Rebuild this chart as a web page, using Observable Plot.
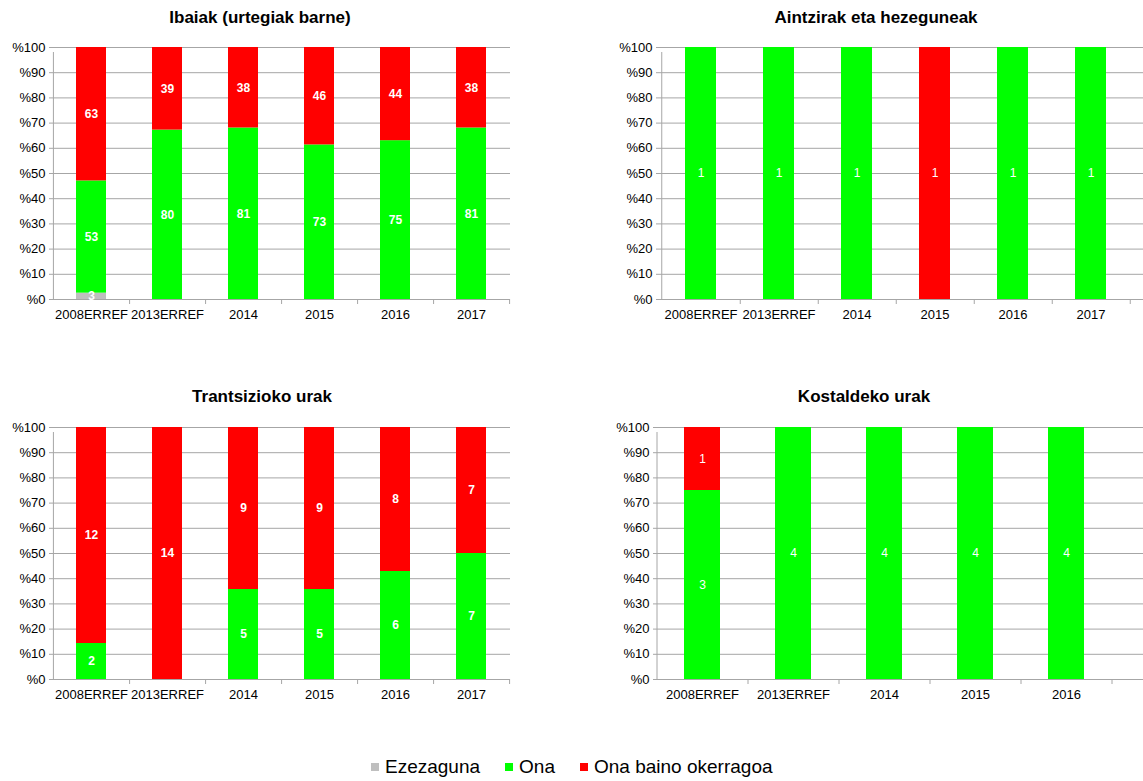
<!DOCTYPE html>
<html>
<head>
<meta charset="utf-8">
<script src="https://cdn.jsdelivr.net/npm/d3@7"></script>
<script src="https://cdn.jsdelivr.net/npm/@observablehq/plot@0.6"></script>
<style>
  body { margin: 0; background: #fff; font-family: "Liberation Sans", Arial, sans-serif; }
  #root { position: relative; width: 1143px; height: 781px; overflow: hidden; background: #fff; }
  .title { position: absolute; font-weight: bold; font-size: 17px; color: #000; transform: translate(-50%, -50%); white-space: nowrap; }
  .panel { position: absolute; }
  #legend { position: absolute; left: 371px; top: 756px; display: flex; align-items: center; font-size: 19px; color: #000; white-space: nowrap; }
  #legend .item { display: flex; align-items: center; margin-right: 25px; }
  #legend .sw { width: 8px; height: 8px; margin-right: 6px; }
</style>
</head>
<body>
<div id="root"></div>
<script>
// ---- data ----
const catsA = ["2008ERREF", "2013ERREF", "2014", "2015", "2016", "2017"];
const catsB = ["2008ERREF", "2013ERREF", "2014", "2015", "2016"];
const statuses = ["Ezezaguna", "Ona", "Ona baino okerragoa"];
const statusColors = ["#bfbfbf", "#00ff00", "#ff0000"];
const yTicks = [0, 10, 20, 30, 40, 50, 60, 70, 80, 90, 100];

const titles = ["Ibaiak (urtegiak barne)", "Aintzirak eta hezeguneak", "Trantsizioko urak", "Kostaldeko urak"];

const ibaiakEzezaguna = [3, 0, 0, 0, 0, 0];
const ibaiakOna = [53, 80, 81, 73, 75, 81];
const ibaiakOkerragoa = [63, 39, 38, 46, 44, 38];

const aintzirakEzezaguna = [0, 0, 0, 0, 0, 0];
const aintzirakOna = [1, 1, 1, 0, 1, 1];
const aintzirakOkerragoa = [0, 0, 0, 1, 0, 0];

const trantsizioEzezaguna = [0, 0, 0, 0, 0, 0];
const trantsizioOna = [2, 0, 5, 5, 6, 7];
const trantsizioOkerragoa = [12, 14, 9, 9, 8, 7];

const kostaldeEzezaguna = [0, 0, 0, 0, 0];
const kostaldeOna = [3, 4, 4, 4, 4];
const kostaldeOkerragoa = [1, 0, 0, 0, 0];

// ---- drawing ----
const root = document.getElementById("root");

function makeRows(cats, series) {
  const rows = [];
  series.forEach((arr, si) => cats.forEach((c, i) => rows.push({cat: c, status: statuses[si], value: arr[i]})));
  return rows;
}

function panel({title, titleX, titleY, cats, series, left, top, width, marginLeft, marginRight, xEnd, bold}) {
  const rows = makeRows(cats, series);
  const step = (xEnd - marginLeft) / cats.length;
  const grid = "#a6a6a6";
  const chart = Plot.plot({
    width, height: 294,
    marginLeft, marginRight, marginTop: 12, marginBottom: 30,
    style: {fontFamily: "'Liberation Sans', Arial, sans-serif", fontSize: "13px", background: "transparent", overflow: "visible", color: "#000"},
    x: {domain: cats, range: [marginLeft, xEnd], paddingInner: 0.6, paddingOuter: 0.3, axis: null},
    y: {domain: [0, 1], axis: null},
    color: {domain: statuses, range: statusColors},
    marks: [
      Plot.ruleY(yTicks.map(t => t / 100), {stroke: grid, strokeWidth: 1}),
      Plot.barY(rows, {x: "cat", y: "value", fill: "status", offset: "normalize", order: statuses}),
      Plot.text(rows.filter(d => d.value > 0), Plot.stackY({
        x: "cat", y: "value", z: "status", offset: "normalize", order: statuses,
        text: d => String(d.value), fill: "#fff", fontSize: 12, fontWeight: bold ? "bold" : "normal"
      })),
      Plot.ruleX([cats[0]], {dx: -step / 2, y1: 0, y2: 1, insetBottom: -5, stroke: grid}),
      Plot.ruleX(cats, {dx: step / 2, y1: 0, y2: 0, insetBottom: -5, stroke: grid}),
      Plot.axisY(yTicks.map(t => t / 100), {tickFormat: d => "%" + Math.round(d * 100), tickSize: 4, tickPadding: 4, stroke: grid, fill: "#000", fontSize: 13, label: null}),
      Plot.axisX({tickSize: 0, tickPadding: 10, fill: "#000", fontSize: 13, label: null})
    ]
  });
  const wrap = document.createElement("div");
  wrap.className = "panel";
  wrap.style.left = left + "px";
  wrap.style.top = top + "px";
  wrap.appendChild(chart);
  root.appendChild(wrap);

  const t = document.createElement("div");
  t.className = "title";
  t.textContent = title;
  t.style.left = titleX + "px";
  t.style.top = titleY + "px";
  root.appendChild(t);
}

panel({title: titles[0], titleX: 260, titleY: 18, cats: catsA,
  series: [ibaiakEzezaguna, ibaiakOna, ibaiakOkerragoa],
  left: 0, top: 35, width: 520, marginLeft: 53, marginRight: 10, xEnd: 510, bold: true});
panel({title: titles[1], titleX: 876, titleY: 18, cats: catsA,
  series: [aintzirakEzezaguna, aintzirakOna, aintzirakOkerragoa],
  left: 600, top: 35, width: 543, marginLeft: 60, marginRight: 0, xEnd: 531, bold: false});
panel({title: titles[2], titleX: 262, titleY: 397, cats: catsA,
  series: [trantsizioEzezaguna, trantsizioOna, trantsizioOkerragoa],
  left: 0, top: 415, width: 520, marginLeft: 53, marginRight: 10, xEnd: 510, bold: true});
panel({title: titles[3], titleX: 864, titleY: 397, cats: catsB,
  series: [kostaldeEzezaguna, kostaldeOna, kostaldeOkerragoa],
  left: 600, top: 415, width: 543, marginLeft: 57, marginRight: 0, xEnd: 512, bold: false});

// legend
const legend = document.createElement("div");
legend.id = "legend";
statuses.forEach((s, i) => {
  const item = document.createElement("div");
  item.className = "item";
  const sw = document.createElement("span");
  sw.className = "sw";
  sw.style.background = statusColors[i];
  const lab = document.createElement("span");
  lab.textContent = s;
  item.appendChild(sw);
  item.appendChild(lab);
  legend.appendChild(item);
});
root.appendChild(legend);
</script>
</body>
</html>
